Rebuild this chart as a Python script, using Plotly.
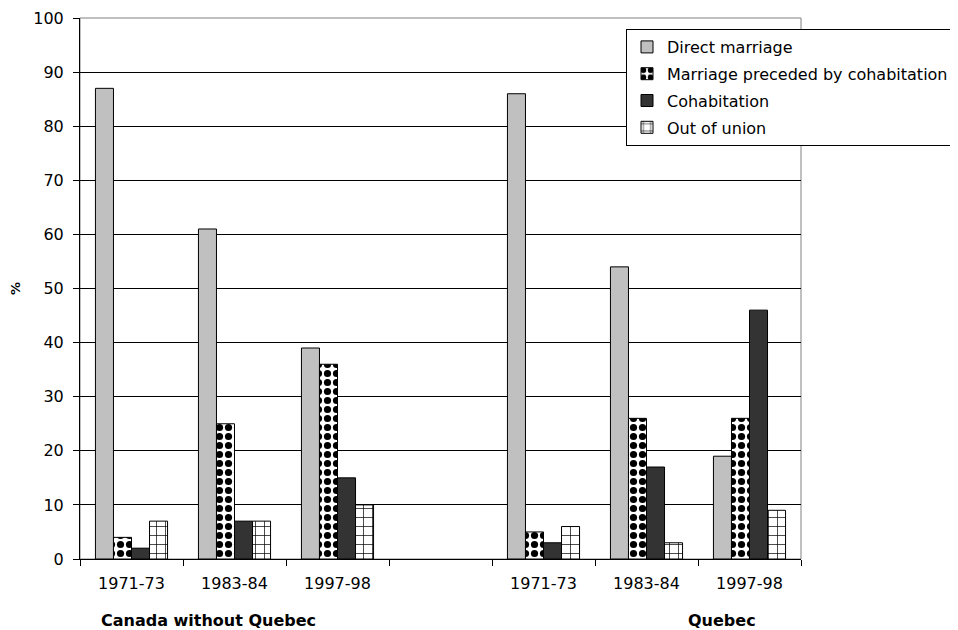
"""Bar chart: first union type by period, Canada without Quebec vs Quebec."""

import plotly.graph_objects as go

# Categories (index 3 is the empty spacer between the two regions)
periods = ["1971-73", "1983-84", "1997-98", "", "1971-73", "1983-84", "1997-98"]
regions = ["Canada without Quebec", "Quebec"]

series_names = [
    "Direct marriage",
    "Marriage preceded by cohabitation",
    "Cohabitation",
    "Out of union",
]
direct_marriage = [87, 61, 39, None, 86, 54, 19]
marriage_after_cohab = [4, 25, 36, None, 5, 26, 26]
cohabitation = [2, 7, 15, None, 3, 17, 46]
out_of_union = [7, 7, 10, None, 6, 3, 9]

y_ticks = list(range(0, 101, 10))

FONT = "DejaVu Sans, Arial, sans-serif"
INK = "#000000"

# The page body has an 8px default margin, so the figure is sized and
# offset to land the plot area where the reference has it.
OFFSET = 8
PAGE_W, PAGE_H = 958, 630
PLOT_L, PLOT_R, PLOT_T, PLOT_B = 80, 801, 18, 559
plot_w = PLOT_R - PLOT_L
plot_h = PLOT_B - PLOT_T


def px_x(px):
    return (px - PLOT_L) / plot_w


def px_y(py):
    return (PLOT_B - py) / plot_h


styles = [
    dict(color="#c0c0c0"),
    dict(color="#ffffff", pattern=dict(shape=".", fgcolor="#000000", bgcolor="#ffffff",
                                       size=9, solidity=0.5, fillmode="replace")),
    dict(color="#333333"),
    dict(color="#ffffff", pattern=dict(shape="+", fgcolor="#000000", bgcolor="#ffffff",
                                       size=9, solidity=0.15, fillmode="replace")),
]
values = [direct_marriage, marriage_after_cohab, cohabitation, out_of_union]

x_idx = list(range(len(periods)))

fig = go.Figure()
for i, (name, vals, st) in enumerate(zip(series_names, values, styles)):
    fig.add_trace(
        go.Bar(
            x=x_idx,
            y=vals,
            name=name,
            legendgroup=f"g{i}",
            marker=dict(**st, line=dict(color=INK, width=1)),
        )
    )

fig.update_layout(
    width=PAGE_W - OFFSET,
    height=PAGE_H - OFFSET,
    paper_bgcolor="white",
    plot_bgcolor="white",
    barmode="group",
    bargap=0.3,
    bargroupgap=0,
    margin=dict(l=PLOT_L - OFFSET, r=PAGE_W - PLOT_R, t=PLOT_T - OFFSET,
                b=PAGE_H - PLOT_B, autoexpand=False),
    font=dict(family=FONT, size=16, color=INK),
    legend=dict(
        x=px_x(626),
        y=px_y(29),
        xanchor="left",
        yanchor="top",
        bgcolor="white",
        bordercolor=INK,
        borderwidth=1,
        font=dict(size=16),
        tracegroupgap=3,
    ),
    shapes=[
        dict(type="rect", xref="x domain", yref="y domain", x0=0, x1=1, y0=0, y1=1,
             line=dict(color="#808080", width=1), layer="below"),
    ],
)

fig.update_xaxes(
    range=[-0.5, len(periods) - 0.5],
    tickmode="array",
    tickvals=x_idx,
    ticktext=periods,
    ticks="",
    ticklabelstandoff=10,
    showline=True,
    linecolor=INK,
    linewidth=1,
    showgrid=False,
    zeroline=False,
    minor=dict(tickmode="array", tickvals=[i - 0.5 for i in range(len(periods) + 1)],
               ticks="outside", ticklen=6, tickcolor=INK, showgrid=False),
)
fig.update_yaxes(
    range=[0, 100],
    tickmode="array",
    tickvals=y_ticks,
    ticks="outside",
    ticklen=6,
    tickcolor=INK,
    ticklabelstandoff=6,
    showline=True,
    linecolor=INK,
    linewidth=1,
    showgrid=True,
    gridcolor="#000000",
    gridwidth=1,
    zeroline=False,
    title=dict(text="<b>%</b>", font=dict(size=13), standoff=22),
)

# region labels under the period ticks
fig.add_annotation(text="<b>" + regions[0] + "</b>", x=px_x(208), y=px_y(620),
                   xref="paper", yref="paper", xanchor="center", yanchor="middle",
                   showarrow=False, font=dict(size=16))
fig.add_annotation(text="<b>" + regions[1] + "</b>", x=px_x(722), y=px_y(620),
                   xref="paper", yref="paper", xanchor="center", yanchor="middle",
                   showarrow=False, font=dict(size=16))

fig.write_html("out.html")
